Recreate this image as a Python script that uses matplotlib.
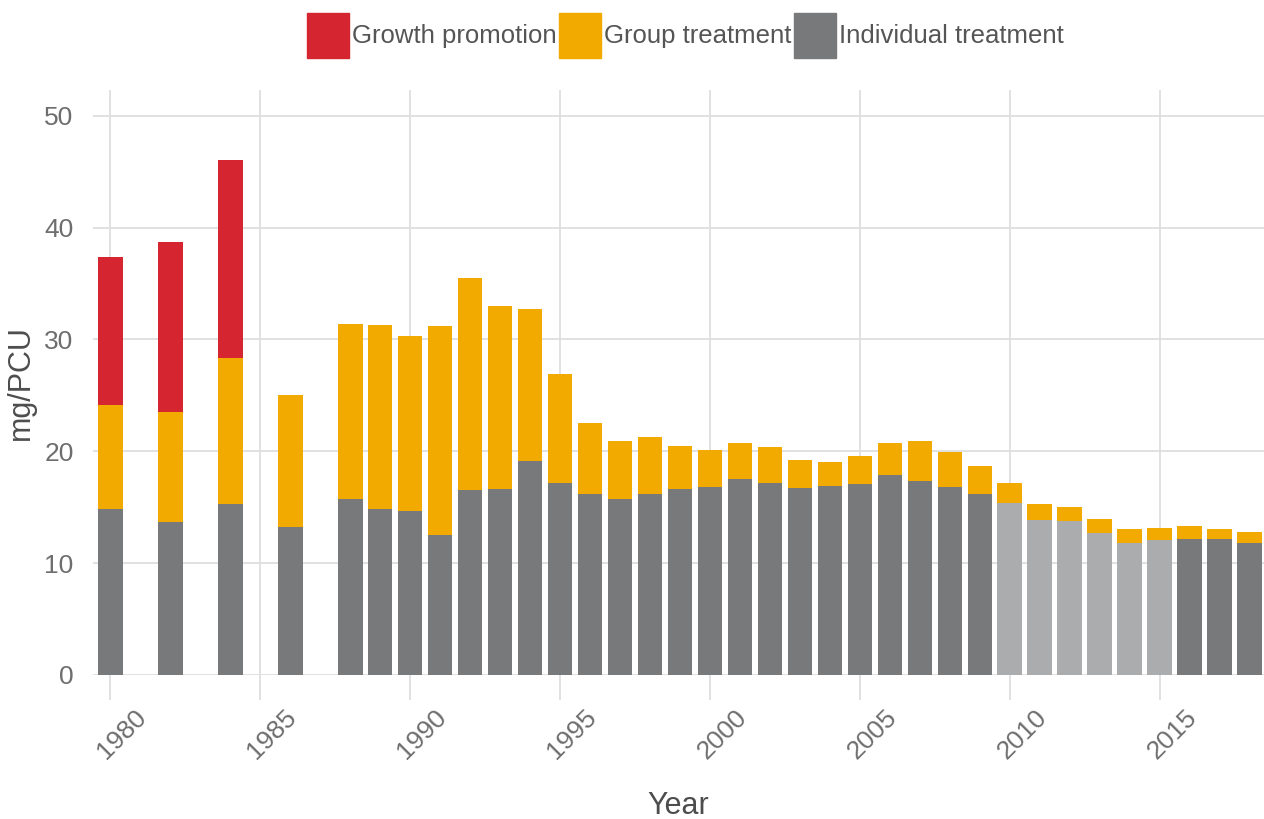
import numpy as np
import matplotlib
matplotlib.use('Agg')
import matplotlib.pyplot as plt
import matplotlib.transforms as mtransforms
from matplotlib.patches import Patch

plt.rcParams['font.family'] = ['Liberation Sans Narrow', 'Liberation Sans', 'DejaVu Sans']

years = [1980, 1982, 1984, 1986] + list(range(1988, 2019))
individual = [14.8, 13.7, 15.3, 13.2,
              15.7, 14.8, 14.7, 12.5, 16.5, 16.6, 19.1, 17.2, 16.2, 15.7, 16.2,
              16.6, 16.8, 17.5, 17.2, 16.7, 16.9, 17.1, 17.9, 17.3, 16.8, 16.2,
              15.4, 13.9, 13.8, 12.7, 11.8, 12.1, 12.2, 12.2, 11.8]
total_treat = [24.1, 23.5, 28.3, 25.0,
               31.4, 31.3, 30.3, 31.2, 35.5, 33.0, 32.7, 26.9, 22.5, 20.9, 21.3,
               20.5, 20.1, 20.7, 20.4, 19.2, 19.05, 19.6, 20.75, 20.9, 19.9, 18.7,
               17.2, 15.3, 15.0, 13.95, 13.05, 13.15, 13.3, 13.05, 12.8]
growth_total = [37.4, 38.7, 46.0, 0]
light_years = [2010, 2011, 2012, 2013, 2014, 2015]

years = np.array(years)
individual = np.array(individual)
group = np.array(total_treat) - individual
growth = np.zeros(len(years))
growth[:4] = np.array(growth_total) - np.array(total_treat[:4])
growth[3] = 0

red = '#d42530'
orange = '#f2a900'
grey = '#78797b'
lgrey = '#abacae'
ind_colors = [lgrey if y in light_years else grey for y in years]

fig = plt.figure(figsize=(12.64, 8.19), dpi=100)
ax = fig.add_axes([93/1264, 144/819, 1 - 93/1264, (675-90)/819])

w = 0.83
ax.bar(years, individual, w, color=ind_colors, zorder=3)
ax.bar(years, group, w, bottom=individual, color=orange, zorder=3)
ax.bar(years, growth, w, bottom=individual + group, color=red, zorder=3)

ax.set_xlim(1979.43, 2018.47)
ax.set_ylim(0, 52.3)
ax.set_xticks(range(1980, 2016, 5))
ax.set_yticks(range(0, 51, 10))
ax.grid(True, color='#dedede', linewidth=1.3, zorder=0)
for s in ax.spines.values():
    s.set_visible(False)
ax.tick_params(axis='x', length=18, width=1.3, color='#dedede', labelsize=19,
               labelcolor='#6e6e6e', pad=2)
ax.tick_params(axis='y', length=0, labelsize=19, labelcolor='#6e6e6e', pad=14)
shift = mtransforms.ScaledTranslation(12/100, -2/100, fig.dpi_scale_trans)
for lab in ax.get_xticklabels():
    lab.set_rotation(45)
    lab.set_ha('center')
    lab.set_va('top')
    lab.set_transform(lab.get_transform() + shift)

ax.set_ylabel('mg/PCU', fontsize=22, color='#4d4d4d', labelpad=6)
ax.set_xlabel('Year', fontsize=22, color='#4d4d4d', labelpad=20)

handles = [Patch(color=red, label='Growth promotion'),
           Patch(color=orange, label='Group treatment'),
           Patch(color=grey, label='Individual treatment')]
fig.legend(handles=handles, loc='upper center', bbox_to_anchor=(0.542, 1.0),
           ncol=3, frameon=False, fontsize=18.5, labelcolor='#555555',
           handlelength=1.65, handleheight=2.3, handletextpad=0.1,
           columnspacing=0.1, borderaxespad=0.1)

fig.savefig('out.png', dpi=100)
